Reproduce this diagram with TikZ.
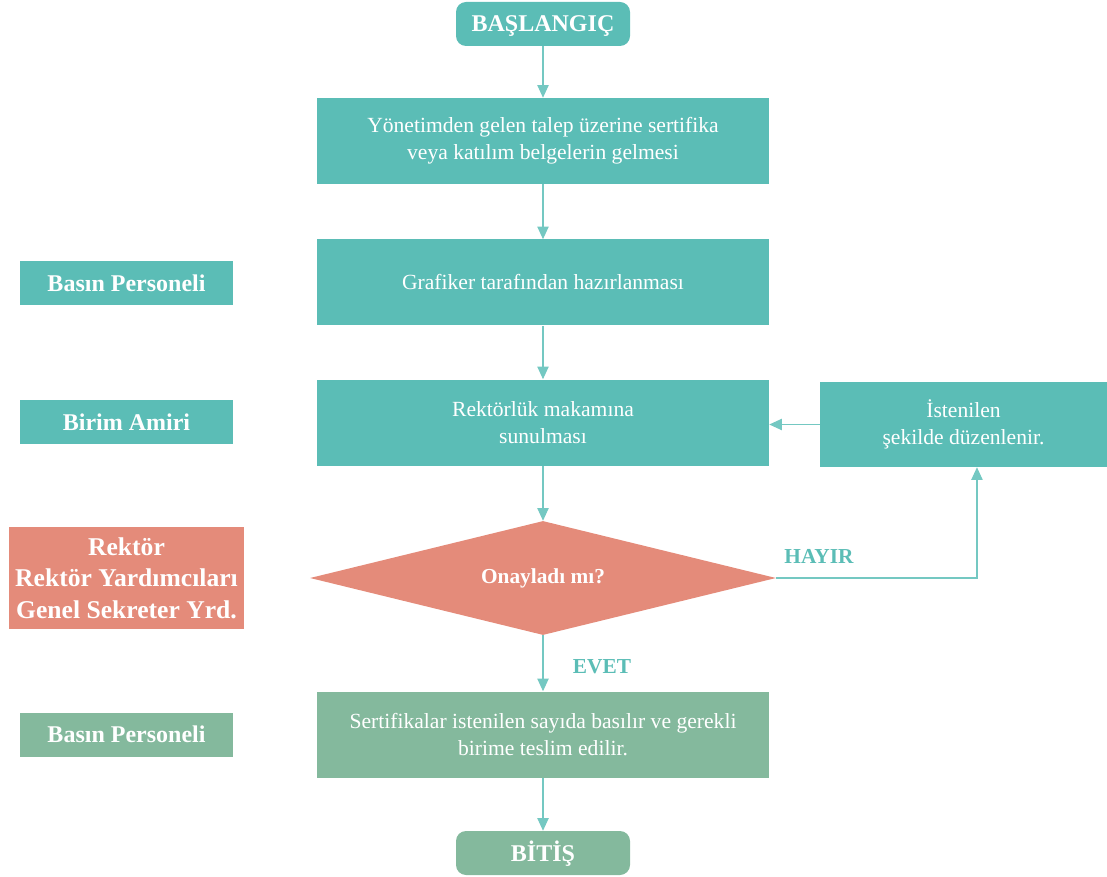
\documentclass[tikz,border=0pt]{standalone}
\usepackage{fontspec}
\setmainfont{Liberation Serif}
\usetikzlibrary{arrows.meta,shapes.geometric}
\definecolor{turkuaz}{HTML}{5BBDB6}
\definecolor{somon}{HTML}{E48B7A}
\definecolor{adacayi}{HTML}{84B99D}
\definecolor{okrenk}{HTML}{74C8C2}
\tikzset{kutu/.style = {rectangle, fill=#1, text=white, align=center,
                        minimum width=339pt, minimum height=64.5pt,
                        font=\fontsize{16.2}{20}\selectfont},
         uc/.style   = {rectangle, rounded corners=7.5pt, fill=#1, text=white,
                        minimum width=130.5pt, minimum height=33pt,
                        text height=12pt, text depth=0pt,
                        font=\fontsize{18}{22}\selectfont\bfseries},
         etiket/.style = {rectangle, fill=#1, text=white, align=center,
                        minimum width=160pt, minimum height=33pt,
                        font=\fontsize{18}{22}\selectfont\bfseries},
         yanit/.style = {text=turkuaz, font=\fontsize{16}{20}\selectfont\bfseries},
         akis/.style  = {draw=okrenk, line width=0.9pt,
                        -{Triangle[length=9.5pt,width=8.5pt]}}}

\begin{document}
\begin{tikzpicture}[x=0.75pt,y=-0.75pt]
    \useasboundingbox (0,0) rectangle (1107,877);

    % ana akis
    \node[uc=turkuaz] (basla) at (543,24) {BAŞLANGIÇ};
    \node[kutu=turkuaz] (talep) at (543,141)
        {Yönetimden gelen talep üzerine sertifika\\veya katılım belgelerin gelmesi};
    \node[kutu=turkuaz] (grafik) at (543,282.5) {Grafiker tarafından hazırlanması};
    \node[kutu=turkuaz] (sunum) at (543,422.5) {Rektörlük makamına\\sunulması};
    \node[kutu=turkuaz,minimum width=215.25pt,minimum height=63.75pt] (duzen) at (963.5,424.5)
        {İstenilen\\şekilde düzenlenir.};
    \node[diamond,aspect=4,inner sep=0pt,fill=somon,text=white,
          minimum width=349.5pt,minimum height=85.5pt,
          font=\fontsize{16}{20}\selectfont\bfseries] (onay) at (543,578) {Onayladı mı?};
    \node[kutu=adacayi] (basim) at (543,734.5)
        {Sertifikalar istenilen sayıda basılır ve gerekli\\birime teslim edilir.};
    \node[uc=adacayi] (bitis) at (543,853) {BİTİŞ};

    % sorumlular
    \node[etiket=turkuaz] (lbasin) at (126.5,283) {Basın Personeli};
    \node[etiket=turkuaz] (lbirim) at (126.5,422) {Birim Amiri};
    \node[etiket=somon,minimum width=176pt,minimum height=76.5pt,
          font=\fontsize{19.2}{23.6}\selectfont\bfseries] (lrektor) at (126.5,578)
        {Rektör\\Rektör Yardımcıları\\Genel Sekreter Yrd.};
    \node[etiket=adacayi] (lbasim) at (126.5,734.5) {Basın Personeli};

    % yanitlar
    \node[yanit] (hayir) at (819,556) {HAYIR};
    \node[yanit] (evet) at (602,667) {EVET};

    % oklar
    \draw[akis] (basla) -- (talep);
    \draw[akis] (talep) -- (grafik);
    \draw[akis] (grafik) -- (sunum);
    \draw[akis] (sunum) -- (onay);
    \draw[akis] (onay) -- (basim);
    \draw[akis] (basim) -- (bitis);
    \draw[akis] (onay.east) -| ([xshift=10.1pt]duzen.south);
    \draw[akis] (duzen.west) -- (duzen.west -| sunum.east);
\end{tikzpicture}
\end{document}
